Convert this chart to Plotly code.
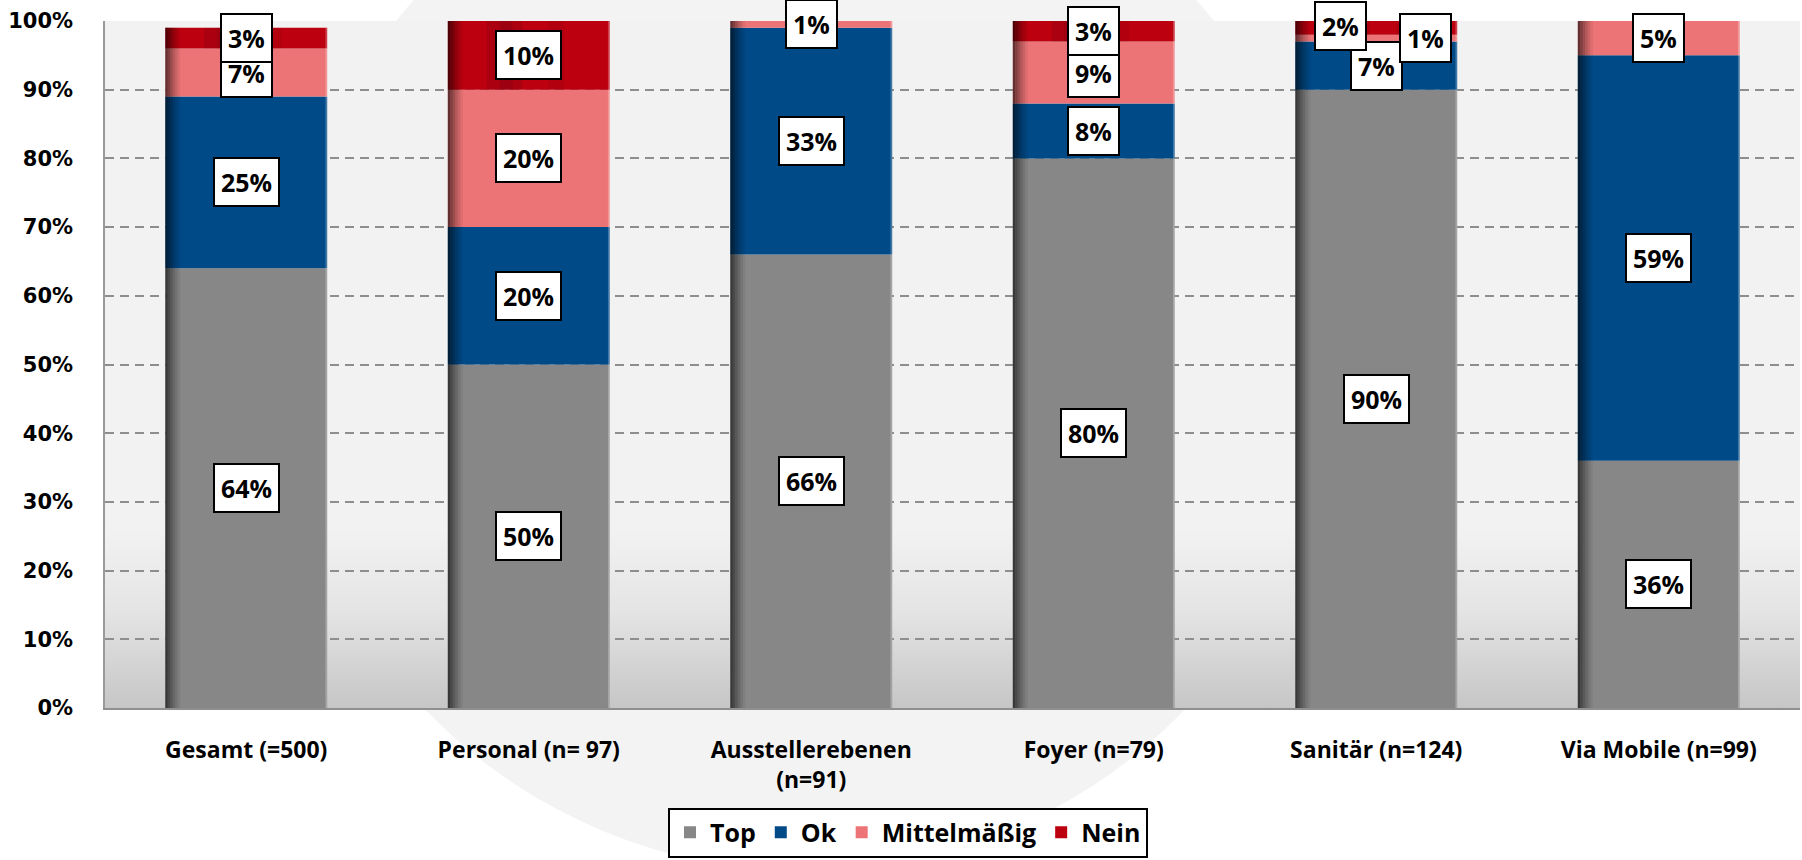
import base64
import numpy as np
import plotly.graph_objects as go

# ---- data -------------------------------------------------------------
categories = ["Gesamt (=500)", "Personal (n= 97)", "Ausstellerebenen<br>(n=91)",
              "Foyer (n=79)", "Sanitär (n=124)", "Via Mobile (n=99)"]
top_vals = [64, 50, 66, 80, 90, 36]
ok_vals = [25, 20, 33, 8, 7, 59]
mittel_vals = [7, 20, 1, 9, 1, 5]
nein_vals = [3, 10, 0, 3, 2, 0]
y_ticks = list(range(0, 101, 10))
y_tick_labels = [f"{t}%" for t in y_ticks]

series_names = ["Top", "Ok", "Mittelmäßig", "Nein"]
series_colors = ["#878787", "#004a87", "#ec7476", "#bd000f"]

# ---- figure geometry ----------------------------------------------------
W, H = 1802, 860
M_L, M_R, M_T, M_B = 105, 2, 21, 149
PW, PH = W - M_L - M_R, H - M_T - M_B
BAR_W = 0.573

FONT = "Open Sans"

series = [top_vals, ok_vals, mittel_vals, nein_vals]
vals = np.array(series, dtype=float)
bases = np.vstack([np.zeros(len(categories)), np.cumsum(vals, axis=0)[:-1]])
totals = vals.sum(axis=0)
xpos = np.arange(len(categories))

fig = go.Figure()

# main stacked segments
for name, color, v, b in zip(series_names, series_colors, vals, bases):
    fig.add_trace(go.Bar(
        x=xpos, y=v, base=b, name=name, width=BAR_W,
        marker=dict(color=color, line=dict(width=0)),
        hoverinfo="skip",
    ))

# darker band inside the red "Nein" segments
for off, w, a in [(0.24, 0.08, 0.14), (0.32, 0.08, 0.24), (0.40, 0.06, 0.14),
                  (0.62, 0.10, 0.08)]:
    fig.add_trace(go.Bar(
        x=xpos, y=vals[3], base=bases[3], width=w * BAR_W,
        offset=-BAR_W / 2 + off * BAR_W,
        marker=dict(color=f"rgba(60,0,20,{a})", line=dict(width=0)),
        showlegend=False, hoverinfo="skip",
    ))

# left-edge shading over the whole column
strip = 2.5 / (PW / len(categories))
for k, a in enumerate([0.58, 0.46, 0.34, 0.23, 0.14, 0.06]):
    fig.add_trace(go.Bar(
        x=xpos, y=totals, base=np.zeros(len(categories)), width=strip,
        offset=-BAR_W / 2 + k * strip,
        marker=dict(color=f"rgba(0,0,0,{a})", line=dict(width=0)),
        showlegend=False, hoverinfo="skip",
    ))
# thin light edge on the right side
fig.add_trace(go.Bar(
    x=xpos, y=totals, base=np.zeros(len(categories)), width=strip * 0.7,
    offset=BAR_W / 2 - strip * 0.7,
    marker=dict(color="rgba(255,255,255,0.25)", line=dict(width=0)),
    showlegend=False, hoverinfo="skip",
))

# ---- value labels ---------------------------------------------------------
label_shift = {(4, 3): (-36, 2), (4, 2): (49, 0)}
for si, (v, b) in enumerate(zip(vals, bases)):
    for ci in range(len(categories)):
        if v[ci] <= 0:
            continue
        dx, dy = label_shift.get((ci, si), (0, 0))
        fig.add_annotation(
            x=ci, y=b[ci] + v[ci] / 2, text=f"{int(v[ci])}%",
            showarrow=False, xshift=dx, yshift=dy,
            font=dict(family=FONT, size=25, color="black", weight="bold"),
            bgcolor="white", bordercolor="black", borderwidth=2, borderpad=6,
        )

# ---- backdrop: watermark disc + graded plot area ----------------------------
svg = f"""<svg xmlns='http://www.w3.org/2000/svg' width='{W}' height='{H}' viewBox='0 0 {W} {H}'>
<defs><linearGradient id='g' x1='0' y1='0' x2='0' y2='1'>
<stop offset='0' stop-color='#f2f2f2'/>
<stop offset='0.74' stop-color='#f2f2f2'/>
<stop offset='0.86' stop-color='#e4e4e4'/>
<stop offset='1' stop-color='#c6c6c6'/>
</linearGradient></defs>
<circle cx='805' cy='350' r='525' fill='#f3f3f3'/>
<rect x='{M_L}' y='{M_T}' width='{PW}' height='{PH}' fill='url(#g)'/>
</svg>"""
src = "data:image/svg+xml;base64," + base64.b64encode(svg.encode()).decode()
fig.add_layout_image(
    source=src, xref="paper", yref="paper",
    x=-M_L / PW, y=1 + M_T / PH, sizex=W / PW, sizey=H / PH,
    xanchor="left", yanchor="top", sizing="stretch", layer="below",
)

fig.update_layout(
    width=W, height=H,
    margin=dict(l=M_L, r=M_R, t=M_T, b=M_B),
    barmode="overlay",
    paper_bgcolor="white", plot_bgcolor="rgba(0,0,0,0)",
    font=dict(family=FONT, color="black"),
    legend=dict(
        orientation="h", x=(908 - M_L) / PW, xanchor="center",
        y=-(811 - (M_T + PH)) / PH, yanchor="top",
        bgcolor="white", bordercolor="black", borderwidth=2,
        font=dict(family=FONT, size=25, weight="bold"),
        traceorder="normal",
    ),
    xaxis=dict(
        tickmode="array", tickvals=xpos, ticktext=categories,
        range=[-0.5, len(categories) - 0.5],
        showgrid=False, zeroline=False,
        showline=True, linecolor="#8f8f8f", linewidth=2,
        ticks="", ticklabelstandoff=20,
        tickfont=dict(family=FONT, size=23, weight="bold"),
    ),
    yaxis=dict(
        range=[0, 100], tickmode="array", tickvals=y_ticks, ticktext=y_tick_labels,
        showgrid=True, gridcolor="#8e8e8e", gridwidth=1.5, griddash="9px,6px",
        zeroline=False, showline=True, linecolor="#9a9a9a", linewidth=1.5,
        ticks="", ticklabelstandoff=26,
        tickfont=dict(family="DejaVu Sans", size=21, weight="bold"),
    ),
)

fig.write_html("out.html")
